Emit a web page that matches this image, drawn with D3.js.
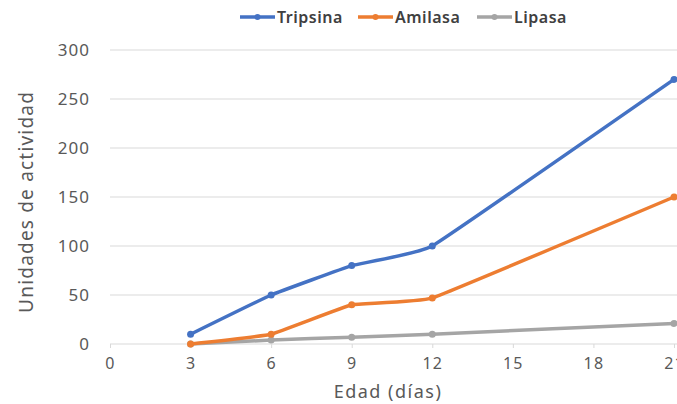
<!DOCTYPE html>
<html><head><meta charset="utf-8">
<script src="https://cdn.jsdelivr.net/npm/d3@7"></script>
<style>
html,body{margin:0;padding:0;background:#fff;overflow:hidden;width:677px;height:404px}
svg{display:block}
</style></head>
<body>
<script>
const days = [3, 6, 9, 12, 21];
const tripsina = [10, 50, 80, 100, 270];
const amilasa = [0, 10, 40, 47, 150];
const lipasa = [0, 4, 7, 10, 21];
const xTicks = [0, 3, 6, 9, 12, 15, 18, 21];
const yTicks = [0, 50, 100, 150, 200, 250, 300];
const seriesNames = ["Tripsina", "Amilasa", "Lipasa"];
const seriesColors = ["#4472C4", "#ED7D31", "#A5A5A5"];

const W = 720, H = 404;
const svg = d3.select("body").append("svg").attr("width", W).attr("height", H);
const font = "'Noto Sans', 'Open Sans', sans-serif";

const x = d3.scaleLinear().domain([0, 21]).range([110, 674]);
const y = d3.scaleLinear().domain([0, 300]).range([344, 50]);

// gridlines
svg.append("g").selectAll("line").data(yTicks.filter(d => d > 0)).join("line")
  .attr("x1", 110).attr("x2", 720)
  .attr("y1", d => y(d)).attr("y2", d => y(d))
  .attr("stroke", "#d9d9d9").attr("stroke-width", 1);

// x axis
const xAxis = d3.axisBottom(x).tickValues(xTicks).tickSize(0).tickPadding(14).tickFormat(d3.format("d"));
const gx = svg.append("g").attr("transform", `translate(0,${y(0)})`).call(xAxis);
gx.select(".domain").attr("stroke", "#d9d9d9").attr("d", `M110,0H720`);
gx.selectAll(".tick").append("line").attr("y1", 0).attr("y2", 4).attr("stroke", "#d9d9d9");
gx.selectAll("text").attr("fill", "#595959").style("font-family", font).style("font-size", "16px").style("letter-spacing", "1.2px");

// y axis
const yAxis = d3.axisLeft(y).tickValues(yTicks).tickSize(0).tickPadding(20);
const gy = svg.append("g").attr("transform", `translate(110,0)`).call(yAxis);
gy.select(".domain").remove();
gy.selectAll("text").attr("fill", "#595959").style("font-family", font).style("font-size", "17px").style("letter-spacing", "1px");

// axis titles
svg.append("text").attr("x", 388).attr("y", 398).attr("text-anchor", "middle")
  .attr("fill", "#595959").style("font-family", font).style("font-size", "18px").style("letter-spacing", "1.5px").text("Edad (días)");
svg.append("text").attr("transform", `translate(33,${y(145)}) rotate(-90)`).attr("text-anchor", "middle")
  .attr("fill", "#595959").style("font-family", font).style("font-size", "19px").style("letter-spacing", "1.2px").text("Unidades de actividad");

const allSeries = [tripsina, amilasa, lipasa];
const line = d3.line().x(d => x(d[0])).y(d => y(d[1])).curve(d3.curveCardinal.tension(0.75));

// draw in reverse so Tripsina on top
for (let i = allSeries.length - 1; i >= 0; i--) {
  const pts = days.map((d, j) => [d, allSeries[i][j]]);
  svg.append("path").datum(pts).attr("d", line)
    .attr("fill", "none").attr("stroke", seriesColors[i]).attr("stroke-width", 3.5).attr("stroke-linecap", "round");
  svg.append("g").selectAll("circle").data(pts).join("circle")
    .attr("cx", d => x(d[0])).attr("cy", d => y(d[1])).attr("r", 3.5).attr("fill", seriesColors[i]);
}

// legend
const legendX = [240, 358, 477];
const legend = svg.append("g");
seriesNames.forEach((name, i) => {
  const g = legend.append("g").attr("transform", `translate(${legendX[i]},17)`);
  g.append("line").attr("x1", 0).attr("x2", 35).attr("y1", 0).attr("y2", 0)
    .attr("stroke", seriesColors[i]).attr("stroke-width", 3.5);
  g.append("circle").attr("cx", 17.5).attr("cy", 0).attr("r", 3).attr("fill", seriesColors[i]);
  g.append("text").attr("x", 37).attr("y", 6).attr("fill", "#404040")
    .style("font-family", font).style("font-size", "16px").style("font-weight", "600").style("letter-spacing", "0.5px").text(name);
});
</script>
</body></html>
